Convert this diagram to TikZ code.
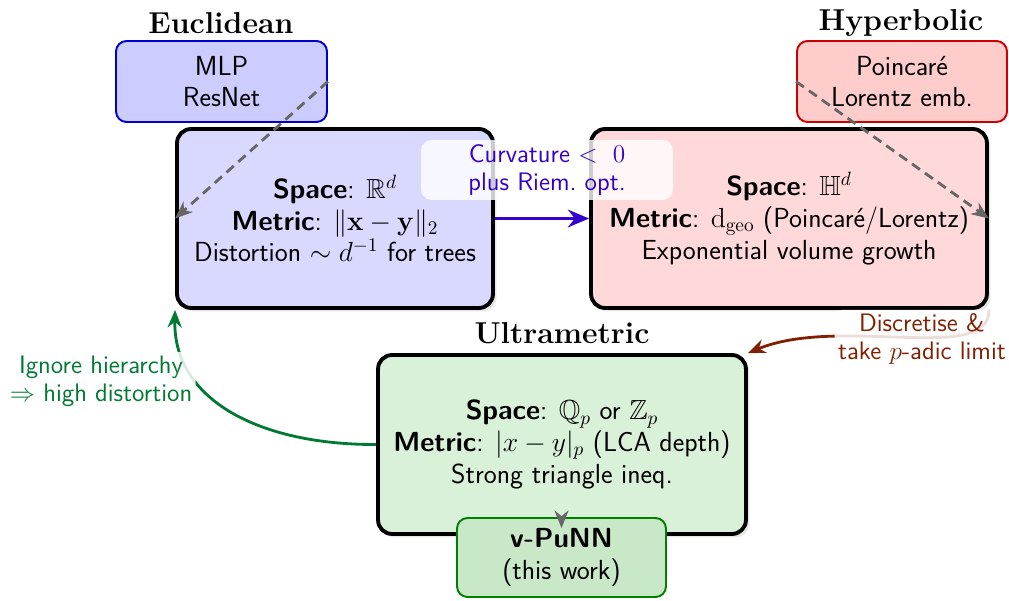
\RequirePackage{fix-cm}
\documentclass[tikz,border=0pt]{standalone}
\usepackage{amsmath,amssymb}
\usetikzlibrary{arrows.meta,shadows}
\definecolor{eufill}{RGB}{217,217,255}
\definecolor{mlpfill}{RGB}{204,204,255}
\definecolor{mlpdraw}{RGB}{0,0,204}
\definecolor{hyfill}{RGB}{255,217,217}
\definecolor{pofill}{RGB}{255,204,204}
\definecolor{podraw}{RGB}{204,0,0}
\definecolor{ulfill}{RGB}{217,240,217}
\definecolor{pufill}{RGB}{200,232,200}
\definecolor{pudraw}{RGB}{0,128,0}
\definecolor{bluearr}{RGB}{51,0,204}
\definecolor{greenarr}{RGB}{0,122,51}
\definecolor{redarr}{RGB}{128,32,0}
\begin{document}
\begin{tikzpicture}[x=0.02cm,y=-0.02cm,
  mainbox/.style={draw=black, line width=2.2pt, rounded corners=8pt, align=center,
    font=\fontsize{15.7}{18}\selectfont\sffamily, inner sep=0pt, minimum height=3.58cm,
    drop shadow={shadow xshift=2pt, shadow yshift=-2pt, opacity=0.2}},
  smallbox/.style={line width=1.1pt, rounded corners=6pt, align=center,
    font=\fontsize{15.7}{18}\selectfont\sffamily, inner sep=0pt, minimum height=1.62cm},
  titlelab/.style={font=\fontsize{17.2}{20}\selectfont\bfseries},
  dasharr/.style={draw=black!60, line width=1.6pt, dash pattern=on 5.5pt off 3.5pt,
    -{Stealth[length=10pt,width=8pt]}},
  curvelab/.style={fill=white, fill opacity=0.85, text opacity=1, align=center,
    font=\fontsize{14.4}{16}\selectfont\sffamily, inner sep=2pt, rounded corners=4pt}
]
\useasboundingbox (0,0) rectangle (1009,601);

% small boxes and titles
\node[smallbox, draw=mlpdraw, fill=mlpfill, minimum width=4.22cm] (mlp) at (221.5,81.5) {MLP\\ResNet};
\node[smallbox, draw=podraw, fill=pofill, minimum width=4.2cm] (poinc) at (902,81.5) {Poincar\'e\\Lorentz emb.};
\node[titlelab] (eutitle) at (221,23) {Euclidean};
\node[titlelab] (hytitle) at (901,23) {Hyperbolic};

% main boxes
\node[mainbox, fill=eufill, minimum width=6.32cm] (eucl) at (335,218.5)
  {\textbf{Space}: $\mathbb{R}^d$\\\textbf{Metric}: $\|\mathbf{x}-\mathbf{y}\|_2$\\Distortion $\sim d^{-1}$ for trees};
\node[mainbox, fill=hyfill, minimum width=7.92cm] (hyp) at (789,218.5)
  {\textbf{Space}: $\mathbb{H}^d$\\\textbf{Metric}: $\mathrm{d}_{\mathrm{geo}}$ (Poincar\'e/Lorentz)\\Exponential volume growth};
\node[mainbox, fill=ulfill, minimum width=7.36cm] (ultra) at (562,444.5)
  {\textbf{Space}: $\mathbb{Q}_p$ or $\mathbb{Z}_p$\\\textbf{Metric}: $|x-y|_p$ (LCA depth)\\Strong triangle ineq.};
\node[smallbox, draw=pudraw, fill=pufill, minimum width=4.18cm, minimum height=1.58cm] (punn) at (561.5,557.5)
  {\textbf{v-PuNN}\\(this work)};

% dashed arrows
\draw[dasharr] (mlp.east) -- (eucl.west);
\draw[dasharr] (poinc.west) -- (hyp.east);

% blue arrow and label
\draw[draw=bluearr, line width=2pt, -{Stealth[length=12pt,width=10pt]}] (eucl.east) -- (hyp.west);
\node[curvelab, text=bluearr, fill opacity=0.8, minimum width=5.04cm, minimum height=1.2cm, rounded corners=6pt] (curv) at (547,170)
  {Curvature $<\ 0$\\plus Riem.\ opt.};

% arrow into v-PuNN
\draw[draw=black!60, line width=1.6pt, -{Stealth[length=10pt,width=8pt]}] (punn.north) -- ++(0,11);

% green curve
\draw[draw=greenarr, line width=1.6pt, -{Stealth[length=10pt,width=8pt]}]
  (ultra.west) .. controls (260,445) and (173,400) .. (eucl.south west);
\node[curvelab, text=greenarr] (ignlab) at (101,381) {Ignore hierarchy\\$\Rightarrow$ high distortion};

% red curve
\draw[draw=redarr, line width=1.6pt, -{Stealth[length=10pt,width=8pt]}]
  (hyp.south east) .. controls (990,365) and (840,315) .. (ultra.north east);
\node[curvelab, text=redarr] (disclab) at (922,339) {Discretise \&\\take $p$-adic limit};

\node[titlelab] (ultitle) at (562,333) {Ultrametric};
\end{tikzpicture}
\end{document}
